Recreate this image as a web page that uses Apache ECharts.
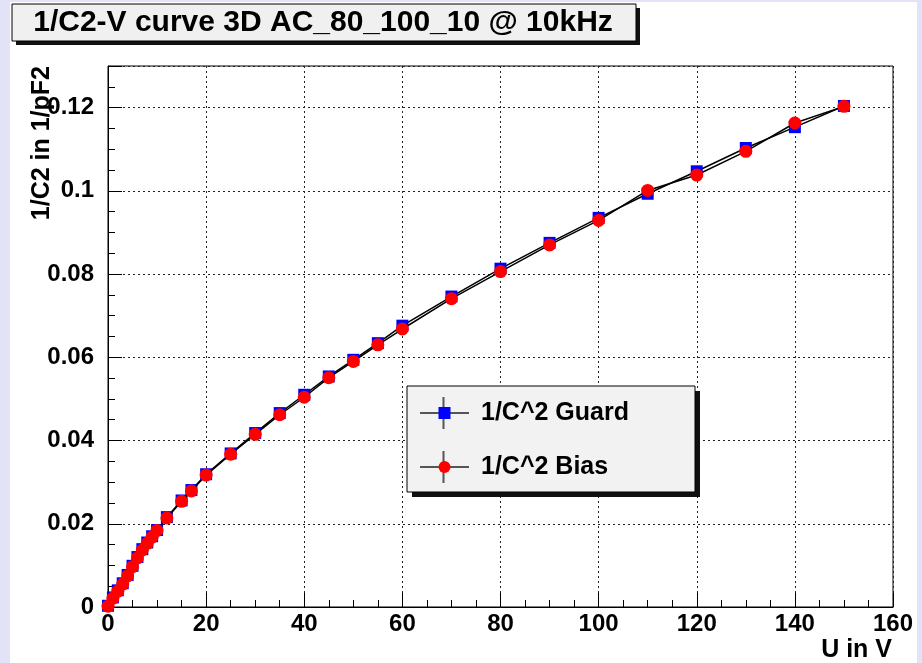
<!DOCTYPE html>
<html>
<head>
<meta charset="utf-8">
<script src="https://cdn.jsdelivr.net/npm/echarts@6/dist/echarts.min.js"></script>
<style>
  html, body { margin: 0; padding: 0; background: #e3e3f7; }
  #paper { position: absolute; left: 10px; top: 2px; width: 907px; height: 661px; background: #fff; }
  #main { position: absolute; left: 0; top: 0; width: 922px; height: 663px; }
</style>
</head>
<body>
<div id="paper"></div>
<div id="main"></div>
<script>
// bias voltage in V
var voltages = [0, 1, 2, 3, 4, 5, 6, 7, 8, 9, 10, 12, 15, 17, 20, 25, 30, 35, 40, 45, 50, 55, 60,
  70, 80, 90, 100, 110, 120, 130, 140, 150];
// 1/C^2 in 1/pF^2
var guard = [0.0003, 0.0023, 0.0040, 0.0057, 0.0077, 0.0099, 0.0120, 0.0139, 0.0155, 0.0170, 0.0185,
  0.0216, 0.0256, 0.0281, 0.0319, 0.0369, 0.0418, 0.0466, 0.0510, 0.0554, 0.0594, 0.0634, 0.0676,
  0.0746, 0.0813, 0.0875, 0.0935, 0.0993, 0.1047, 0.1103, 0.1153, 0.1204];
var bias = [0.0002, 0.0021, 0.0038, 0.0055, 0.0075, 0.0097, 0.0118, 0.0137, 0.0153, 0.0168, 0.0184,
  0.0214, 0.0254, 0.0279, 0.0317, 0.0367, 0.0415, 0.0462, 0.0504, 0.0551, 0.0590, 0.0630, 0.0668,
  0.0741, 0.0806, 0.0870, 0.0929, 0.1001, 0.1038, 0.1095, 0.1163, 0.1203];

var titleText = '1/C2-V curve 3D AC_80_100_10 @ 10kHz';
var xTitle = 'U in V';
var yTitle = '1/C2 in 1/pF2';
var seriesNames = ['1/C^2 Guard', '1/C^2 Bias'];

var font = '"Liberation Sans", Arial, sans-serif';

var chart = echarts.init(document.getElementById('main'));

function pairs(ys) {
  return voltages.map(function (v, i) { return [v, ys[i]]; });
}

var axisCommon = {
  type: 'value',
  axisLine: { show: true, onZero: false, lineStyle: { color: '#000', width: 1 } },
  axisTick: { show: true, inside: true, length: 14, lineStyle: { color: '#000' } },
  minorTick: { show: true, splitNumber: 4, length: 7, lineStyle: { color: '#000' } },
  splitLine: { show: true, lineStyle: { type: [2, 3], color: '#222', width: 1 } }
};

chart.setOption({
  animation: false,
  backgroundColor: 'transparent',
  grid: {
    left: 108, top: 66, width: 785, height: 541,
    show: true, borderColor: '#000', borderWidth: 1, backgroundColor: 'transparent'
  },
  xAxis: Object.assign({}, axisCommon, {
    min: 0, max: 160, interval: 20,
    axisLabel: { fontFamily: font, fontWeight: 'bold', fontSize: 24, color: '#000', margin: 5 }
  }),
  yAxis: Object.assign({}, axisCommon, {
    min: 0, max: 0.13, interval: 0.02,
    axisLabel: { fontFamily: font, fontWeight: 'bold', fontSize: 24, color: '#000', margin: 14, showMaxLabel: false }
  }),
  legend: {
    orient: 'vertical',
    left: 419, top: 398,
    padding: 0,
    itemWidth: 49, itemHeight: 15,
    itemGap: 24,
    z: 20,
    lineStyle: { color: '#555', width: 2 },
    textStyle: { fontFamily: font, fontWeight: 'bold', fontSize: 25, color: '#000', lineHeight: 30, padding: [0, 0, 0, 7] },
    data: seriesNames
  },
  graphic: [
    // title box
    { type: 'rect', z: 5, shape: { x: 16, y: 8, width: 624, height: 37 }, style: { fill: '#111' } },
    { type: 'rect', z: 6, shape: { x: 12, y: 4, width: 624, height: 37 }, style: { fill: '#f0f0f0', stroke: '#000', lineWidth: 1 } },
    { type: 'text', z: 7, x: 323, y: 23, style: { text: titleText, font: 'bold 30px ' + font, fill: '#000', align: 'center', verticalAlign: 'middle' } },
    // axis titles
    { type: 'text', z: 7, x: 42, y: 66, rotation: Math.PI / 2, style: { text: yTitle, font: 'bold 25px ' + font, fill: '#000', align: 'right', verticalAlign: 'middle' } },
    { type: 'text', z: 7, x: 892, y: 650, style: { text: xTitle, font: 'bold 25px ' + font, fill: '#000', align: 'right', verticalAlign: 'middle' } },
    // legend box
    { type: 'rect', z: 10, shape: { x: 412, y: 391, width: 288, height: 106 }, style: { fill: '#111' } },
    { type: 'rect', z: 11, shape: { x: 407, y: 386, width: 288, height: 106 }, style: { fill: '#f2f2f2', stroke: '#000', lineWidth: 1 } },
    { type: 'line', z: 12, shape: { x1: 443.5, y1: 397, x2: 443.5, y2: 429 }, style: { stroke: '#555', lineWidth: 2 } },
    { type: 'line', z: 12, shape: { x1: 443.5, y1: 451, x2: 443.5, y2: 483 }, style: { stroke: '#555', lineWidth: 2 } }
  ],
  series: [
    {
      name: seriesNames[0], type: 'line', data: pairs(guard),
      symbol: 'rect', symbolSize: 12, z: 2,
      itemStyle: { color: '#0000ff' },
      lineStyle: { color: '#000', width: 1.5 }
    },
    {
      name: seriesNames[1], type: 'line', data: pairs(bias),
      symbol: 'circle', symbolSize: 13, z: 3,
      itemStyle: { color: '#ff0000' },
      lineStyle: { color: '#000', width: 1.5 }
    }
  ]
});
</script>
</body>
</html>
